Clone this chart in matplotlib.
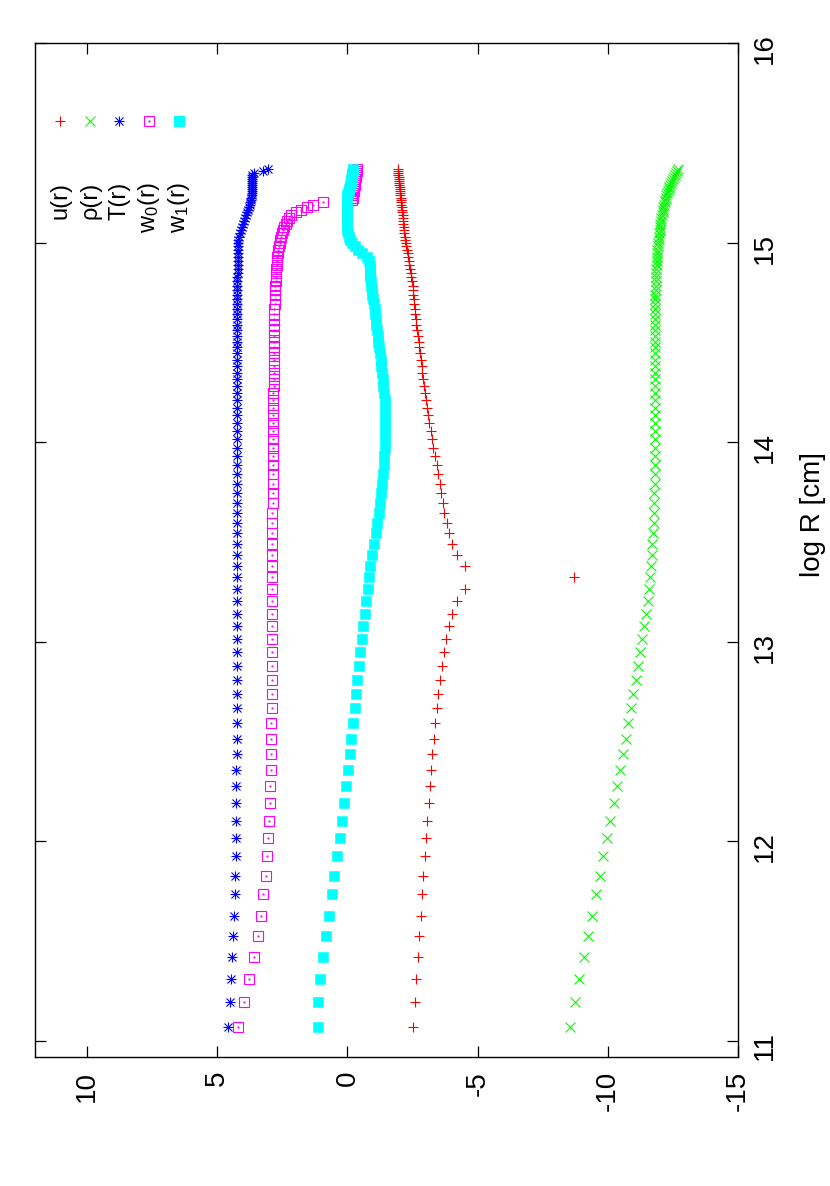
import matplotlib
matplotlib.use('Agg')
import matplotlib.pyplot as plt

plt.rcParams['font.family'] = ['Liberation Sans', 'DejaVu Sans']
plt.rcParams['mathtext.default'] = 'regular'
plt.rcParams['axes.unicode_minus'] = False

# log R grid (cm)
log_r = [11.070, 11.196, 11.312, 11.422, 11.528, 11.628, 11.734, 11.829, 11.925, 12.015,
         12.101, 12.191, 12.276, 12.357, 12.437, 12.513, 12.593, 12.668, 12.739, 12.809,
         12.879, 12.950, 13.015, 13.080, 13.141, 13.206, 13.266, 13.322, 13.382, 13.437,
         13.488, 13.543, 13.593, 13.643, 13.694, 13.744, 13.789, 13.839, 13.884, 13.930,
         13.970, 14.015, 14.055, 14.096, 14.136, 14.171, 14.211, 14.246, 14.281, 14.317,
         14.347, 14.382, 14.412, 14.447, 14.477, 14.503, 14.533, 14.563, 14.588, 14.618,
         14.643, 14.668, 14.694, 14.719, 14.739, 14.764, 14.784, 14.809, 14.829, 14.849,
         14.869, 14.890, 14.910, 14.930, 14.950, 14.965, 14.985, 15.000, 15.015, 15.030,
         15.050, 15.065, 15.080, 15.095, 15.106, 15.121, 15.136, 15.151, 15.161, 15.176,
         15.186, 15.201, 15.211, 15.221, 15.236, 15.246, 15.256, 15.266, 15.276, 15.287,
         15.297, 15.307, 15.317, 15.327, 15.337, 15.347, 15.357, 15.367]

u_r = [-2.51, -2.58, -2.64, -2.69, -2.74, -2.81, -2.86, -2.91, -2.96, -3.01,
       -3.07, -3.12, -3.17, -3.20, -3.26, -3.31, -3.37, -3.42, -3.49, -3.55,
       -3.62, -3.69, -3.77, -3.88, -4.02, -4.19, -4.50, -8.69, -4.50, -4.19,
       -4.02, -3.88, -3.81, -3.69, -3.66, -3.60, -3.54, -3.48, -3.42, -3.35,
       -3.30, -3.25, -3.20, -3.15, -3.11, -3.07, -3.03, -2.99, -2.95, -2.91,
       -2.88, -2.85, -2.82, -2.78, -2.75, -2.73, -2.70, -2.67, -2.65, -2.62,
       -2.60, -2.58, -2.56, -2.54, -2.53, -2.52, -2.50, -2.48, -2.45, -2.43,
       -2.40, -2.38, -2.35, -2.33, -2.31, -2.28, -2.25, -2.24, -2.22, -2.21,
       -2.19, -2.18, -2.17, -2.15, -2.14, -2.13, -2.12, -2.10, -2.09, -2.08,
       -2.07, -2.06, -2.05, -2.04, -2.03, -2.02, -2.02, -2.01, -2.00, -1.99,
       -1.98, -1.98, -1.97, -1.96, -1.95, -1.95, -1.94, -1.93]

rho_r = [-8.55, -8.73, -8.91, -9.09, -9.24, -9.40, -9.55, -9.68, -9.83, -9.97,
         -10.09, -10.22, -10.35, -10.46, -10.58, -10.68, -10.78, -10.88, -10.97, -11.07,
         -11.15, -11.24, -11.31, -11.39, -11.47, -11.53, -11.58, -11.62, -11.65, -11.68,
         -11.71, -11.74, -11.76, -11.77, -11.78, -11.79, -11.80, -11.81, -11.81, -11.82,
         -11.82, -11.82, -11.82, -11.82, -11.81, -11.81, -11.81, -11.81, -11.81, -11.81,
         -11.81, -11.81, -11.81, -11.81, -11.81, -11.81, -11.82, -11.82, -11.82, -11.82,
         -11.82, -11.82, -11.82, -11.83, -11.83, -11.84, -11.84, -11.85, -11.85, -11.85,
         -11.86, -11.87, -11.88, -11.89, -11.90, -11.90, -11.92, -11.93, -11.95, -11.96,
         -11.98, -12.00, -12.01, -12.02, -12.04, -12.06, -12.08, -12.10, -12.11, -12.13,
         -12.15, -12.18, -12.20, -12.22, -12.25, -12.27, -12.30, -12.33, -12.36, -12.40,
         -12.43, -12.47, -12.50, -12.53, -12.56, -12.60, -12.66, -12.70]

t_r = [4.59, 4.53, 4.47, 4.43, 4.41, 4.37, 4.33, 4.32, 4.30, 4.30,
       4.28, 4.27, 4.27, 4.27, 4.26, 4.26, 4.26, 4.25, 4.25, 4.25,
       4.25, 4.25, 4.25, 4.25, 4.25, 4.25, 4.25, 4.25, 4.25, 4.25,
       4.25, 4.25, 4.25, 4.25, 4.25, 4.25, 4.25, 4.25, 4.25, 4.25,
       4.25, 4.25, 4.25, 4.25, 4.25, 4.25, 4.25, 4.25, 4.25, 4.25,
       4.25, 4.25, 4.25, 4.25, 4.25, 4.25, 4.25, 4.25, 4.25, 4.25,
       4.25, 4.25, 4.25, 4.25, 4.25, 4.24, 4.24, 4.23, 4.23, 4.22,
       4.22, 4.22, 4.22, 4.22, 4.22, 4.22, 4.21, 4.21, 4.20, 4.17,
       4.12, 4.08, 4.04, 4.00, 3.97, 3.93, 3.88, 3.84, 3.81, 3.77,
       3.75, 3.73, 3.71, 3.69, 3.67, 3.66, 3.65, 3.65, 3.65, 3.65,
       3.65, 3.65, 3.65, 3.65, 3.65, 3.60, 3.25, 3.05]

w0_r = [4.20, 3.99, 3.78, 3.60, 3.45, 3.32, 3.23, 3.14, 3.08, 3.04,
        3.00, 2.97, 2.96, 2.95, 2.93, 2.92, 2.92, 2.90, 2.90, 2.90,
        2.88, 2.88, 2.88, 2.88, 2.88, 2.88, 2.88, 2.88, 2.88, 2.88,
        2.88, 2.88, 2.88, 2.88, 2.87, 2.87, 2.87, 2.87, 2.86, 2.86,
        2.86, 2.86, 2.86, 2.86, 2.85, 2.85, 2.85, 2.85, 2.84, 2.84,
        2.84, 2.84, 2.83, 2.83, 2.83, 2.83, 2.82, 2.82, 2.82, 2.82,
        2.81, 2.81, 2.80, 2.80, 2.79, 2.78, 2.77, 2.76, 2.75, 2.74,
        2.73, 2.72, 2.71, 2.69, 2.67, 2.65, 2.62, 2.60, 2.58, 2.55,
        2.52, 2.48, 2.42, 2.36, 2.32, 2.26, 2.15, 1.98, 1.80, 1.55,
        1.33, 0.95, -0.18, -0.20, -0.22, -0.23, -0.24, -0.25, -0.26, -0.27,
        -0.28, -0.29, -0.30, -0.31, -0.33, -0.34, -0.36, -0.37]

w1_r = [1.15, 1.15, 1.05, 0.93, 0.83, 0.72, 0.60, 0.50, 0.40, 0.30,
        0.22, 0.14, 0.07, -0.01, -0.08, -0.14, -0.20, -0.27, -0.33, -0.38,
        -0.45, -0.50, -0.55, -0.59, -0.67, -0.73, -0.78, -0.83, -0.88, -0.95,
        -1.01, -1.09, -1.14, -1.20, -1.26, -1.29, -1.32, -1.37, -1.40, -1.42,
        -1.43, -1.45, -1.46, -1.46, -1.46, -1.45, -1.43, -1.41, -1.38, -1.35,
        -1.32, -1.30, -1.27, -1.24, -1.21, -1.19, -1.17, -1.13, -1.10, -1.08,
        -1.05, -1.04, -1.00, -0.99, -0.96, -0.94, -0.92, -0.90, -0.88, -0.87,
        -0.86, -0.85, -0.83, -0.74, -0.55, -0.42, -0.28, -0.18, -0.10, -0.05,
        -0.02, 0.00, 0.01, 0.02, 0.02, 0.02, 0.02, 0.02, 0.02, 0.02,
        0.02, 0.02, 0.02, 0.01, 0.00, -0.02, -0.04, -0.06, -0.08, -0.10,
        -0.12, -0.14, -0.15, -0.17, -0.18, -0.19, -0.20, -0.20]

labels = ['u(r)', '\u03c1(r)', 'T(r)', 'w$_0$(r)', 'w$_1$(r)']
value_ticks = [10, 5, 0, -5, -10, -15]
logr_ticks = [11, 12, 13, 14, 15, 16]

fig = plt.figure(figsize=(8.3, 11.86), dpi=100)
ax = fig.add_axes([0.0422, 0.1088, 0.8470, 0.8550])

ms = 7.5
lw = 0.8
# the whole gnuplot page is turned on its side: values run horizontally, log R vertically
ax.plot(u_r, log_r, ls='none', marker='+', ms=ms, mew=lw, color='#ff0000')
ax.plot(rho_r, log_r, ls='none', marker='x', ms=ms * 0.9, mew=lw, color='#00ff00')
ax.plot(t_r, log_r, ls='none', marker='+', ms=ms, mew=lw, color='#0000ff')
ax.plot(t_r, log_r, ls='none', marker='x', ms=ms * 0.75, mew=lw, color='#0000ff')
ax.plot(w0_r, log_r, ls='none', marker='s', ms=ms, mew=lw, mfc='none', color='#ff00ff')
ax.plot(w0_r, log_r, ls='none', marker='.', ms=1.2, color='#ff00ff')
ax.plot(w1_r, log_r, ls='none', marker='s', ms=ms, mew=0.4, color='#00ffff')

# key, drawn sideways like the rest
key_x = [0.0356, 0.0782, 0.1195, 0.162, 0.205]
styles = [dict(marker='+', color='#ff0000'), dict(marker='x', color='#00ff00'),
          dict(marker='+', color='#0000ff'), dict(marker='s', color='#ff00ff', mfc='none'),
          dict(marker='s', color='#00ffff')]
for kx, lab, st in zip(key_x, labels, styles):
    ax.plot([kx], [0.923], ls='none', ms=ms, mew=lw, transform=ax.transAxes, clip_on=False, **st)
    ax.text(kx, 0.863, lab, rotation=90, ha='center', va='top', fontsize=17,
            transform=ax.transAxes)
ax.plot([key_x[2]], [0.923], ls='none', marker='x', ms=ms * 0.75, mew=lw, color='#0000ff',
        transform=ax.transAxes)
ax.plot([key_x[3]], [0.923], ls='none', marker='.', ms=1.2, color='#ff00ff',
        transform=ax.transAxes)

ax.set_xlim(12, -15)
ax.set_ylim(10.92, 16)
ax.set_xticks(value_ticks)
ax.set_yticks(logr_ticks)
ax.tick_params(direction='in', length=8, width=0.9, top=True, bottom=True,
               left=True, right=True, labelleft=False, labelright=True,
               labelrotation=90, labelsize=20, pad=10)
ax.yaxis.set_label_position('right')
ax.set_ylabel('log R [cm]', fontsize=20, rotation=90)
ax.yaxis.set_label_coords(1.088, 0.535)
for s in ax.spines.values():
    s.set_linewidth(1.0)

fig.savefig('out.png', dpi=100)
